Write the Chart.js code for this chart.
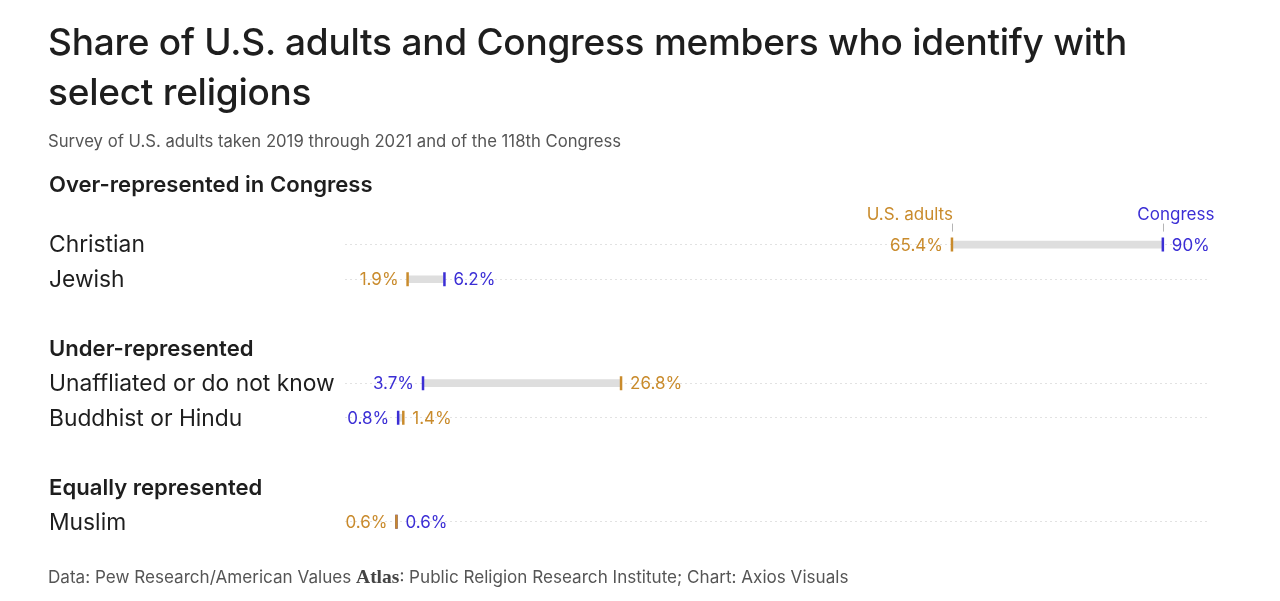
<!DOCTYPE html>
<html>
<head>
<meta charset="utf-8">
<script src="https://cdn.jsdelivr.net/npm/chart.js@4/dist/chart.umd.min.js"></script>
<style>
  html, body { margin: 0; padding: 0; background: #fff; }
  #wrap { position: relative; width: 1280px; height: 601px; overflow: hidden; font-family: Inter, "Noto Sans", sans-serif; }
  #chart { position: absolute; left: 0; top: 0; }
  #title { position: absolute; left: 48px; top: 17px; font-size: 37px; line-height: 50px; font-weight: 500; color: #1e1e1e; letter-spacing: -0.25px; }
  #subtitle { position: absolute; left: 48px; top: 131px; font-size: 16.7px; color: #555; }
  #footer { position: absolute; left: 48px; top: 566px; font-size: 17.1px; color: #555; }
  #footer .atlas { font-family: "Liberation Serif", "DejaVu Serif", serif; font-size: 19.5px; font-weight: 600; color: #444; }
</style>
</head>
<body>
<div id="wrap">
  <canvas id="chart" width="1280" height="601"></canvas>
  <div id="title">Share of U.S. adults and Congress members who identify with<br>select religions</div>
  <div id="subtitle">Survey of U.S. adults taken 2019 through 2021 and of the 118th Congress</div>
  <div id="footer">Data: Pew Research/American Values <span class="atlas">Atlas</span>: Public Religion Research Institute; Chart: Axios Visuals</div>
</div>
<script>
// ---- data ----
const groupTitles = ["Over-represented in Congress", "Under-represented", "Equally represented"];
const categories = ["Christian", "Jewish", "Unaffliated or do not know", "Buddhist or Hindu", "Muslim"];
const categoryGroup = [0, 0, 1, 1, 2];
const usAdults = [65.4, 1.9, 26.8, 1.4, 0.6];
const congress = [90, 6.2, 3.7, 0.8, 0.6];
const seriesNames = ["U.S. adults", "Congress"];

// ---- colours ----
const ORANGE = "#C98B2C";
const BLUE = "#3B2ED5";
const GREY_BAR = "#DEDEDE";

// ---- build slot layout (headers, spacers, rows) ----
const slots = [];
groupTitles.forEach((t, g) => {
  if (g > 0) slots.push({ kind: "spacer", text: "" });
  slots.push({ kind: "header", text: t, group: g });
  if (g === 0) slots.push({ kind: "legend", text: "" });
  categories.forEach((c, i) => {
    if (categoryGroup[i] === g) slots.push({ kind: "row", text: c, idx: i });
  });
});
const labels = slots.map((s, i) => s.text || (" ".repeat(i + 1)));
const usData = slots.map(s => s.kind === "row" ? usAdults[s.idx] : null);
const congData = slots.map(s => s.kind === "row" ? congress[s.idx] : null);
const rangeData = slots.map(s => s.kind === "row" ? [Math.min(usAdults[s.idx], congress[s.idx]), Math.max(usAdults[s.idx], congress[s.idx])] : null);

const fmt = v => (Number.isInteger(v) ? v.toString() : v.toFixed(1)) + "%";
const FONT = "Inter, 'Noto Sans', sans-serif";

const textPlugin = {
  id: "dumbbellText",
  afterDatasetsDraw(chart) {
    const ctx = chart.ctx;
    const xs = chart.scales.x, ys = chart.scales.y;
    ctx.save();
    slots.forEach((s, i) => {
      const y = ys.getPixelForValue(i);
      if (s.kind === "header") {
        ctx.font = "600 22.1px " + FONT;
        ctx.fillStyle = "#1e1e1e";
        ctx.textAlign = "left";
        ctx.textBaseline = "middle";
        ctx.fillText(s.text, 49, y + (s.group === 0 ? 10 : 1));
      } else if (s.kind === "row") {
        ctx.font = "400 22.8px " + FONT;
        ctx.fillStyle = "#1e1e1e";
        ctx.textAlign = "left";
        ctx.textBaseline = "middle";
        ctx.fillText(s.text, 49, y + 1);
        const u = usAdults[s.idx], c = congress[s.idx];
        const xu = xs.getPixelForValue(u), xc = xs.getPixelForValue(c);
        ctx.font = "400 17px " + FONT;
        const leftIsUs = u <= c;
        const leftVal = leftIsUs ? u : c, rightVal = leftIsUs ? c : u;
        const leftX = Math.min(xu, xc), rightX = Math.max(xu, xc);
        ctx.textAlign = "right";
        ctx.fillStyle = leftIsUs ? ORANGE : BLUE;
        ctx.fillText(fmt(leftVal), leftX - 9, y + 1);
        ctx.textAlign = "left";
        ctx.fillStyle = leftIsUs ? BLUE : ORANGE;
        ctx.fillText(fmt(rightVal), rightX + 9, y + 1);
      } else if (s.kind === "legend") {
        const first = slots[i + 1];
        const xu = xs.getPixelForValue(usAdults[first.idx]);
        const xc = xs.getPixelForValue(congress[first.idx]);
        const ly = ys.getPixelForValue(i + 1);
        ctx.font = "400 17px " + FONT;
        ctx.textBaseline = "middle";
        ctx.textAlign = "right";
        ctx.fillStyle = ORANGE;
        ctx.fillText(seriesNames[0], xu + 1, ly - 30);
        ctx.textAlign = "center";
        ctx.fillStyle = BLUE;
        ctx.fillText(seriesNames[1], xc + 13, ly - 30);
        ctx.strokeStyle = "#b5b5b5";
        ctx.lineWidth = 1;
        [xu, xc].forEach(x => {
          ctx.beginPath();
          ctx.moveTo(Math.round(x) + 0.5, ly - 21);
          ctx.lineTo(Math.round(x) + 0.5, ly - 13);
          ctx.stroke();
        });
      }
    });
    ctx.restore();
  }
};

const pointStyleCommon = {
  type: "line",
  indexAxis: "y",
  showLine: false,
  pointStyle: "line",
  rotation: 90,
  pointRadius: 7,
  pointHoverRadius: 7,
  pointBorderWidth: 2.5,
  borderWidth: 2.5
};

new Chart(document.getElementById("chart"), {
  type: "bar",
  data: {
    labels: labels,
    datasets: [
      Object.assign({}, pointStyleCommon, { label: seriesNames[0], data: usData, borderColor: ORANGE, pointBorderColor: ORANGE, backgroundColor: ORANGE, order: 0 }),
      Object.assign({}, pointStyleCommon, { label: seriesNames[1], data: congData, borderColor: BLUE, pointBorderColor: BLUE, backgroundColor: BLUE, order: 1 }),
      { type: "bar", label: "gap", data: rangeData, backgroundColor: GREY_BAR, barThickness: 7, borderSkipped: false, order: 2 }
    ]
  },
  options: {
    indexAxis: "y",
    responsive: false,
    animation: false,
    events: [],
    layout: { padding: { left: 345, right: 70, top: 158, bottom: 62 } },
    scales: {
      x: { type: "linear", min: -5.4, max: 95.5, display: false },
      y: {
        type: "category",
        display: true,
        ticks: { display: false },
        border: { display: false, dash: [2, 3] },
        grid: {
          offset: false,
          drawTicks: false,
          lineWidth: 1,
          color: ctx => (slots[ctx.index] && slots[ctx.index].kind === "row") ? "#e2e2e2" : "rgba(0,0,0,0)"
        }
      }
    },
    plugins: { legend: { display: false }, tooltip: { enabled: false } }
  },
  plugins: [textPlugin]
});
</script>
</body>
</html>
